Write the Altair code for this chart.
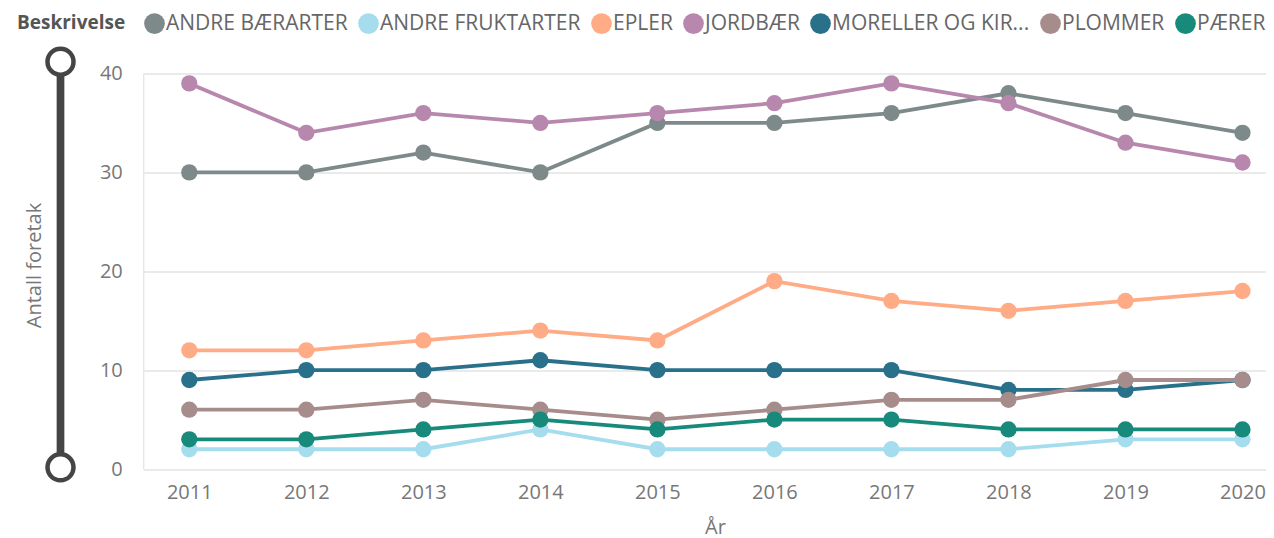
import altair as alt
import pandas as pd

years = [2011, 2012, 2013, 2014, 2015, 2016, 2017, 2018, 2019, 2020]
series = ["ANDRE BÆRARTER", "ANDRE FRUKTARTER", "EPLER", "JORDBÆR",
          "MORELLER OG KIRSEBÆR", "PLOMMER", "PÆRER"]
andre_baerarter = [30, 30, 32, 30, 35, 35, 36, 38, 36, 34]
andre_fruktarter = [2, 2, 2, 4, 2, 2, 2, 2, 3, 3]
epler = [12, 12, 13, 14, 13, 19, 17, 16, 17, 18]
jordbaer = [39, 34, 36, 35, 36, 37, 39, 37, 33, 31]
moreller = [9, 10, 10, 11, 10, 10, 10, 8, 8, 9]
plommer = [6, 6, 7, 6, 5, 6, 7, 7, 9, 9]
paerer = [3, 3, 4, 5, 4, 5, 5, 4, 4, 4]
colors = ["#7E8A8A", "#A5DDEE", "#FFAB86", "#B787AE", "#29708A", "#A68D8C", "#178A7C"]
y_ticks = [0, 10, 20, 30, 40]

values = [andre_baerarter, andre_fruktarter, epler, jordbaer, moreller, plommer, paerer]
rows = []
for name, vals in zip(series, values):
    for yr, v in zip(years, vals):
        rows.append({"Beskrivelse": name, "År": yr, "Antall foretak": v})
df = pd.DataFrame(rows)

FONT = "Open Sans"
GRAY = "#777777"

x_enc = alt.X("År:Q",
              scale=alt.Scale(domain=[2010.607, 2020.201], nice=False, zero=False),
              axis=alt.Axis(values=years, format="d", grid=False, domain=False, ticks=False,
                            tickSize=0, labelFontSize=20, labelColor=GRAY, labelPadding=23,
                            labelBaseline="middle", labelFont=FONT,
                            title="År", titleFontSize=20, titleColor=GRAY, titleFontWeight="normal",
                            titleFont=FONT, titleX=571.7, titleY=58, titleBaseline="middle",
                            titleAlign="center", labelOverlap=False, labelFlush=False))
y_enc = alt.Y("Antall foretak:Q",
              scale=alt.Scale(domain=[0, 40], nice=False),
              axis=alt.Axis(values=y_ticks, format="d", grid=True, gridColor="#EAEAEA",
                            gridWidth=2, domain=False, ticks=False, tickSize=0,
                            labelFontSize=20, labelColor=GRAY, labelPadding=21, labelFont=FONT,
                            title="Antall foretak", titleFontSize=20, titleColor=GRAY,
                            titleFontWeight="normal", titleFont=FONT, titleX=-109.3, titleY=191.5,
                            titleAngle=270, titleBaseline="middle", titleAlign="center"))

legend = alt.Legend(title="Beskrivelse", orient="none", legendX=-126.3, legendY=-60.5,
                    direction="horizontal", titleOrient="left", titleFontSize=19,
                    titleFontWeight="bold", titleColor="#555555", titlePadding=18, titleFont=FONT,
                    labelFontSize=21, labelColor="#666666", labelFont=FONT, symbolType="circle",
                    symbolSize=430, symbolStrokeWidth=0, labelOffset=1, columnPadding=10,
                    labelLimit=400, padding=0, symbolOpacity=1,
                    labelExpr="datum.label == 'MORELLER OG KIRSEBÆR' ? 'MORELLER OG KIR...' : datum.label")

color_scale = alt.Scale(domain=series, range=colors)

slider_df = pd.DataFrame({"k": [0]})
SLIDER = "#454545"
layers = [
    alt.Chart(slider_df).mark_rule(color=SLIDER, strokeWidth=7.7).encode(
        x=alt.value(-82.8), y=alt.value(-11.8), y2=alt.value(393.8)),
    alt.Chart(slider_df).mark_point(shape="circle", fill="white", stroke=SLIDER, strokeWidth=4.5,
                                    size=676, opacity=1, fillOpacity=1, strokeOpacity=1).encode(
        x=alt.value(-82.8), y=alt.value(-11.8)),
    alt.Chart(slider_df).mark_point(shape="circle", fill="white", stroke=SLIDER, strokeWidth=4.5,
                                    size=676, opacity=1, fillOpacity=1, strokeOpacity=1).encode(
        x=alt.value(-82.8), y=alt.value(393.8)),
]

for name, col in zip(series, colors):
    base = alt.Chart(df).transform_filter(alt.datum["Beskrivelse"] == name)
    layers.append(base.mark_line(strokeWidth=3.8, color=col).encode(x=x_enc, y=y_enc))
    layers.append(base.mark_circle(size=266, opacity=1).encode(
        x=x_enc, y=y_enc,
        color=alt.Color("Beskrivelse:N", scale=color_scale, legend=legend)))

chart = alt.layer(*layers).properties(
    width=1122.7, height=395.5,
    padding={"left": 135.3, "top": 65.5, "right": 0, "bottom": 69},
    autosize=alt.AutoSizeParams(type="none"),
).configure_view(stroke=None).configure(font=FONT)

chart.save("out.html", embed_options={"renderer": "svg", "actions": False})
